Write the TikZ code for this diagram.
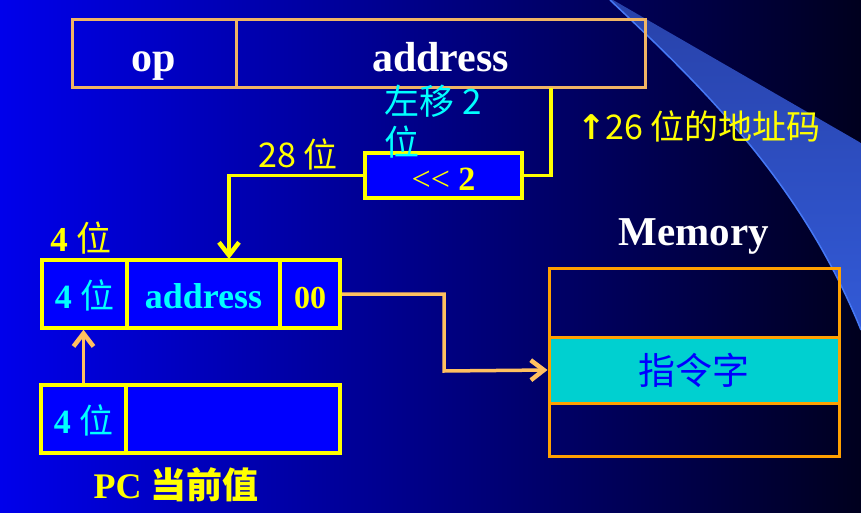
\documentclass[tikz,border=0pt]{standalone}
\usepackage{fontspec}
\setmainfont{Liberation Serif}
\newfontfamily\cjk{Noto Sans CJK SC}
\newfontfamily\symb{DejaVu Sans}
\usetikzlibrary{arrows.meta}
\definecolor{sigyellow}{RGB}{255,255,0}
\definecolor{sigcyan}{RGB}{0,255,255}
\definecolor{regblue}{RGB}{0,0,255}
\definecolor{peach}{RGB}{240,180,100}
\definecolor{wire}{RGB}{255,192,96}
\definecolor{memorange}{RGB}{255,160,0}
\definecolor{cellcyan}{RGB}{0,208,208}
\definecolor{wedgetop}{RGB}{40,66,170}
\definecolor{wedgebot}{RGB}{50,90,215}
\definecolor{wedgeedge}{RGB}{70,120,245}
\newcommand{\fs}[1]{\fontsize{#1}{#1}\selectfont}

\begin{document}
\begin{tikzpicture}[x=1pt, y=-1pt,
    field/.style = {draw, line width=3pt, inner sep=0pt, minimum height=68pt},
    regbox/.style = {field, draw=sigyellow, line width=3.5pt, fill=regblue, text height=28pt, text depth=0pt},
    memcell/.style = {field, draw=memorange, minimum width=290pt},
    openarrow/.style = {-{Straight Barb[length=13pt, width=20pt, line width=4.5pt]}},
    notetext/.style = {inner sep=0pt, text=sigyellow}]
    \useasboundingbox (0,0) rectangle (861,513);
    \shade[left color={rgb,255:red,0;green,0;blue,235}, right color={rgb,255:red,0;green,0;blue,30}] (0,0) rectangle (861,513);
    \shade[top color=wedgetop, bottom color=wedgebot] (610,0) .. controls (700,85) and (800,180) .. (861,330) -- (861,143) -- (613,0) -- cycle;
    \draw[wedgeedge, line width=1.5pt] (610,0) .. controls (700,85) and (800,180) .. (861,330);

    \node[field, draw=peach, minimum width=164pt, text=white, font=\bfseries\fs{42}, text height=36pt, text depth=0pt] (op) at (154,54) {op};
    \node[field, draw=peach, minimum width=409pt, text=white, font=\bfseries\fs{42}, text height=36pt, text depth=0pt] (instaddr) at (440.5,54) {address};
    \node[regbox, minimum width=157pt, minimum height=45pt, text=sigyellow, font=\fs{34}, text height=29pt] (shift) at (443.5,175.5) {<{}<\ \textbf{2}};

    \node[regbox, minimum width=85pt, text=sigcyan, font=\fs{34}] (newhi) at (84.5,294) {\textbf{4} \cjk 位};
    \node[regbox, minimum width=153pt, text=sigcyan, font=\bfseries\fs{36}] (newaddr) at (203.5,294) {address};
    \node[regbox, minimum width=60pt, text=sigyellow, font=\bfseries\fs{32}] (low) at (310,294) {00};
    \node[regbox, minimum width=85pt, text=sigcyan, font=\fs{34}] (pchi) at (83.5,419) {\textbf{4} \cjk 位};
    \node[regbox, minimum width=214pt] (pclo) at (233,419) {};

    \node[memcell, minimum height=69pt] (memtop) at (694,302.5) {};
    \node[memcell, minimum height=53pt] (membot) at (694,429.5) {};
    \node[memcell, minimum height=66pt, fill=cellcyan, text=regblue, font=\cjk\fs{37}] (memmid) at (694,370) {指令字};

    \coordinate (tap) at (551,88);
    \coordinate (land) at (229,259);
    \coordinate (bend) at (444,371);
    \draw[sigyellow, line width=3.5pt] (tap) |- (shift.east);
    \draw[sigyellow, line width=3.5pt, openarrow] (shift.west) -| (land);
    \draw[wire, line width=3.5pt, openarrow] (pchi.north) -- (pchi.north |- newhi.south);
    \draw[wire, line width=3.5pt, openarrow] (low.east) -| (bend) -- (memmid.west);

    \node[notetext, font=\fs{35}] (hibits) at (81,238) {\textbf{4} \cjk 位};
    \node[notetext, font=\cjk\fs{34}] (bits28) at (298,154) {28 位};
    \node[notetext, text=sigcyan, font=\cjk\fontsize{35}{41}\selectfont, align=left, anchor=north west] (shiftnote) at (384,85) {左移 2\\位};
    \node[notetext, font=\cjk\fs{34}] (bits26) at (699,126) {{\symb\bfseries ↑}26 位的地址码};
    \node[notetext, text=white, font=\bfseries\fs{41}] (memname) at (694,236) {Memory};
    \node[notetext, font=\bfseries\fs{36}] (pcnow) at (176,485) {PC {\cjk 当前值}};
\end{tikzpicture}
\end{document}
